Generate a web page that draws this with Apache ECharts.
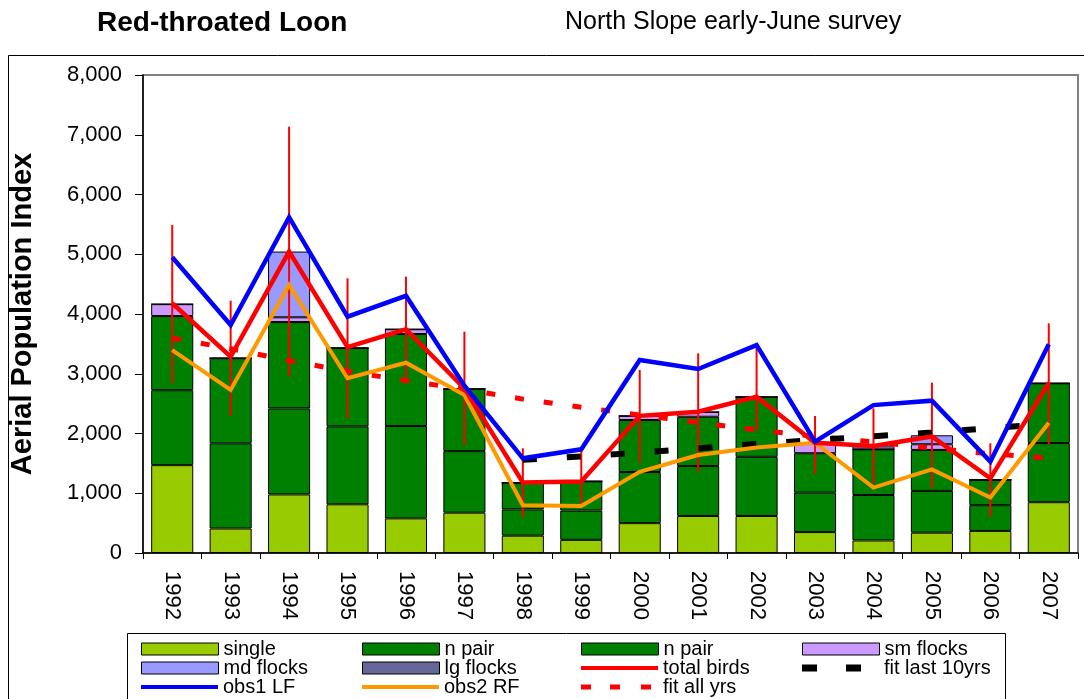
<!DOCTYPE html>
<html>
<head>
<meta charset="utf-8">
<script src="https://cdn.jsdelivr.net/npm/echarts@6/dist/echarts.min.js"></script>
<style>
  html, body { margin: 0; padding: 0; background: #fff; }
  #chart { width: 1084px; height: 699px; }
</style>
</head>
<body>
<div id="chart"></div>
<script>
// survey years
const years = ['1992', '1993', '1994', '1995', '1996', '1997', '1998', '1999',
  '2000', '2001', '2002', '2003', '2004', '2005', '2006', '2007'];

// stacked bar parts
const single = [1470, 410, 980, 815, 580, 675, 290, 220, 500, 620, 620, 350, 210, 340, 370, 850];
const nPair1 = [1255, 1425, 1440, 1305, 1545, 1030, 440, 490, 855, 835, 990, 660, 760, 700, 430, 990];
const nPair2 = [1240, 1425, 1445, 1310, 1540, 1040, 445, 490, 870, 825, 1000, 660, 765, 685, 425, 1000];
const smFlocks = [200, 0, 80, 0, 80, 0, 0, 0, 70, 80, 0, 170, 0, 95, 0, 0];
const mdFlocks = [0, 0, 1100, 0, 0, 0, 0, 0, 0, 0, 0, 0, 50, 150, 0, 0];
const lgFlocks = [null, null, null, null, null, null, null, null, null, null, null, null, null, null, null, null];

// lines
const totalBirds = [4180, 3285, 5045, 3445, 3745, 2755, 1180, 1195, 2295, 2365, 2615, 1845, 1790, 1950, 1250, 2850];
const obs1LF = [4950, 3815, 5620, 3955, 4305, 2800, 1585, 1735, 3230, 3080, 3480, 1865, 2475, 2550, 1530, 3495];
const obs2RF = [3395, 2730, 4485, 2925, 3185, 2645, 800, 785, 1360, 1640, 1765, 1845, 1095, 1400, 930, 2180];
const fitAllYrs = [3595, 3420, 3220, 3040, 2885, 2740, 2575, 2440, 2310, 2185, 2060, 1950, 1860, 1755, 1660, 1590];
const fitLast10 = [null, null, null, null, null, null, 1560, 1615, 1680, 1750, 1825, 1890, 1955, 2015, 2090, 2160];

// error bars on total birds
const errLow = [2840, 2293, 2951, 2254, 2867, 1807, 597, 803, 1512, 1361, 2040, 1322, 1166, 1083, 608, 1819];
const errHigh = [5490, 4223, 7135, 4597, 4625, 3704, 1752, 1724, 3063, 3342, 3450, 2293, 2421, 2851, 1836, 3844];

// y ticks
const yTicks = [0, 1000, 2000, 3000, 4000, 5000, 6000, 7000, 8000];

// legend layout (rows x columns)
const legendRows = [
  ['single', 'n pair', 'n pair', 'sm flocks'],
  ['md flocks', 'lg flocks', 'total birds', 'fit last 10yrs'],
  ['obs1 LF', 'obs2 RF', 'fit all yrs', null]
];
const legendColX = [141, 362, 581, 802];
const legendRowY = [649, 668, 687];

const FONT = '"Liberation Sans", Arial, Helvetica, sans-serif';

// legend icons: [icon, height]
const SPECK = 'M76.9,0h0.1v0.1h-0.1z';
const legendIcons = {
  'total birds': ['path://M0,0H77V4H0Z', 4],
  'obs1 LF': ['path://M0,0H77V4H0Z', 4],
  'obs2 RF': ['path://M0,0H77V4H0Z', 4],
  'fit all yrs': ['path://M0,0h10v5h-10zM29,0h10v5h-10zM60,0h10v5h-10z' + SPECK, 5],
  'fit last 10yrs': ['path://M0,0h15v7h-15zM44,0h15v7h-15z' + SPECK, 7]
};

function fmt(v) {
  return String(v).replace(/\B(?=(\d{3})+(?!\d))/g, ',');
}

const chart = echarts.init(document.getElementById('chart'));

function barSeries(name, data, color) {
  return {
    name: name, type: 'bar', stack: 'birds', data: data, z: 2,
    barCategoryGap: '28%',
    itemStyle: { color: color, borderColor: '#000', borderWidth: 1 }
  };
}
function lineSeries(name, data, color, width, z, dash) {
  return {
    name: name, type: 'line', data: data, z: z,
    symbol: 'none', showSymbol: false, connectNulls: false,
    lineStyle: { color: color, width: width, type: dash || 'solid', cap: 'butt', join: 'miter' },
    itemStyle: { color: color }
  };
}

const legends = [];
legendRows.forEach((row, r) => {
  row.forEach((name, c) => {
    if (!name) return;
    const ic = legendIcons[name];
    legends.push({
      data: [{ name: name, icon: ic ? ic[0] : 'rect' }],
      left: legendColX[c], top: legendRowY[r] - 10,
      padding: 0, itemWidth: 77, itemHeight: ic ? ic[1] : 12,
      selectedMode: false,
      itemStyle: ic ? { borderWidth: 0 } : { borderColor: '#000', borderWidth: 1 },
      textStyle: { fontFamily: FONT, fontSize: 20, lineHeight: 20, color: '#000' }
    });
  });
});

chart.setOption({
  animation: false,
  backgroundColor: '#fff',
  title: [
    { text: 'Red-throated Loon', left: 97, top: 9, padding: 0,
      textStyle: { fontFamily: FONT, fontSize: 28, fontWeight: 'bold', color: '#000' } },
    { text: 'North Slope early-June survey', left: 565, top: 10, padding: 0,
      textStyle: { fontFamily: FONT, fontSize: 25, fontWeight: 'normal', color: '#000' } }
  ],
  graphic: [
    { type: 'rect', z: -1, shape: { x: 8.5, y: 55.5, width: 1100, height: 700 },
      style: { fill: 'none', stroke: '#000', lineWidth: 1 } },
    { type: 'rect', z: 0, shape: { x: 127.5, y: 633.5, width: 878, height: 90 },
      style: { fill: '#fff', stroke: '#000', lineWidth: 1 } }
  ],
  legend: legends,
  grid: {
    left: 139, right: 6, top: 75, bottom: 146,
    show: true, borderColor: '#808080', borderWidth: 2, backgroundColor: '#fff'
  },
  xAxis: {
    type: 'category', data: years, boundaryGap: true,
    axisLine: { lineStyle: { color: '#000', width: 1.5 } },
    axisTick: { show: true, length: 6, inside: false, alignWithLabel: false, lineStyle: { color: '#000' } },
    axisLabel: { rotate: -90, margin: 18, fontFamily: FONT, fontSize: 22, color: '#000' },
    splitLine: { show: false }
  },
  yAxis: {
    type: 'value', min: yTicks[0], max: yTicks[yTicks.length - 1], interval: 1000,
    name: 'Aerial Population Index', nameLocation: 'middle', nameRotate: 90, nameGap: 106,
    nameTextStyle: { fontFamily: FONT, fontSize: 29, fontWeight: 'bold', color: '#000' },
    axisLine: { show: true, lineStyle: { color: '#000', width: 1.5 } },
    axisTick: { show: true, length: 8, lineStyle: { color: '#000' } },
    axisLabel: { margin: 21, fontFamily: FONT, fontSize: 22, color: '#000', formatter: fmt },
    splitLine: { show: false }
  },
  series: [
    barSeries('single', single, '#99cc00'),
    barSeries('n pair', nPair1, '#008000'),
    barSeries('n pair', nPair2, '#008000'),
    barSeries('sm flocks', smFlocks, '#cc99ff'),
    barSeries('md flocks', mdFlocks, '#9999ff'),
    barSeries('lg flocks', lgFlocks, '#666699'),
    {
      name: 'error', type: 'custom', z: 3,
      data: years.map((y, i) => [i, errLow[i], errHigh[i]]),
      encode: { x: 0, y: [1, 2] },
      renderItem: function (params, api) {
        const lo = api.coord([api.value(0), api.value(1)]);
        const hi = api.coord([api.value(0), api.value(2)]);
        return {
          type: 'line',
          shape: { x1: lo[0], y1: lo[1], x2: hi[0], y2: hi[1] },
          style: { stroke: '#ff0000', lineWidth: 2 }
        };
      }
    },
    lineSeries('fit all yrs', fitAllYrs, '#ff0000', 5, 4, [9, 20]),
    lineSeries('fit last 10yrs', fitLast10, '#000000', 6, 4, [14, 30]),
    lineSeries('obs2 RF', obs2RF, '#ff9900', 4, 5),
    lineSeries('total birds', totalBirds, '#ff0000', 4.5, 6),
    lineSeries('obs1 LF', obs1LF, '#0000ff', 4.5, 7)
  ]
});
</script>
</body>
</html>
